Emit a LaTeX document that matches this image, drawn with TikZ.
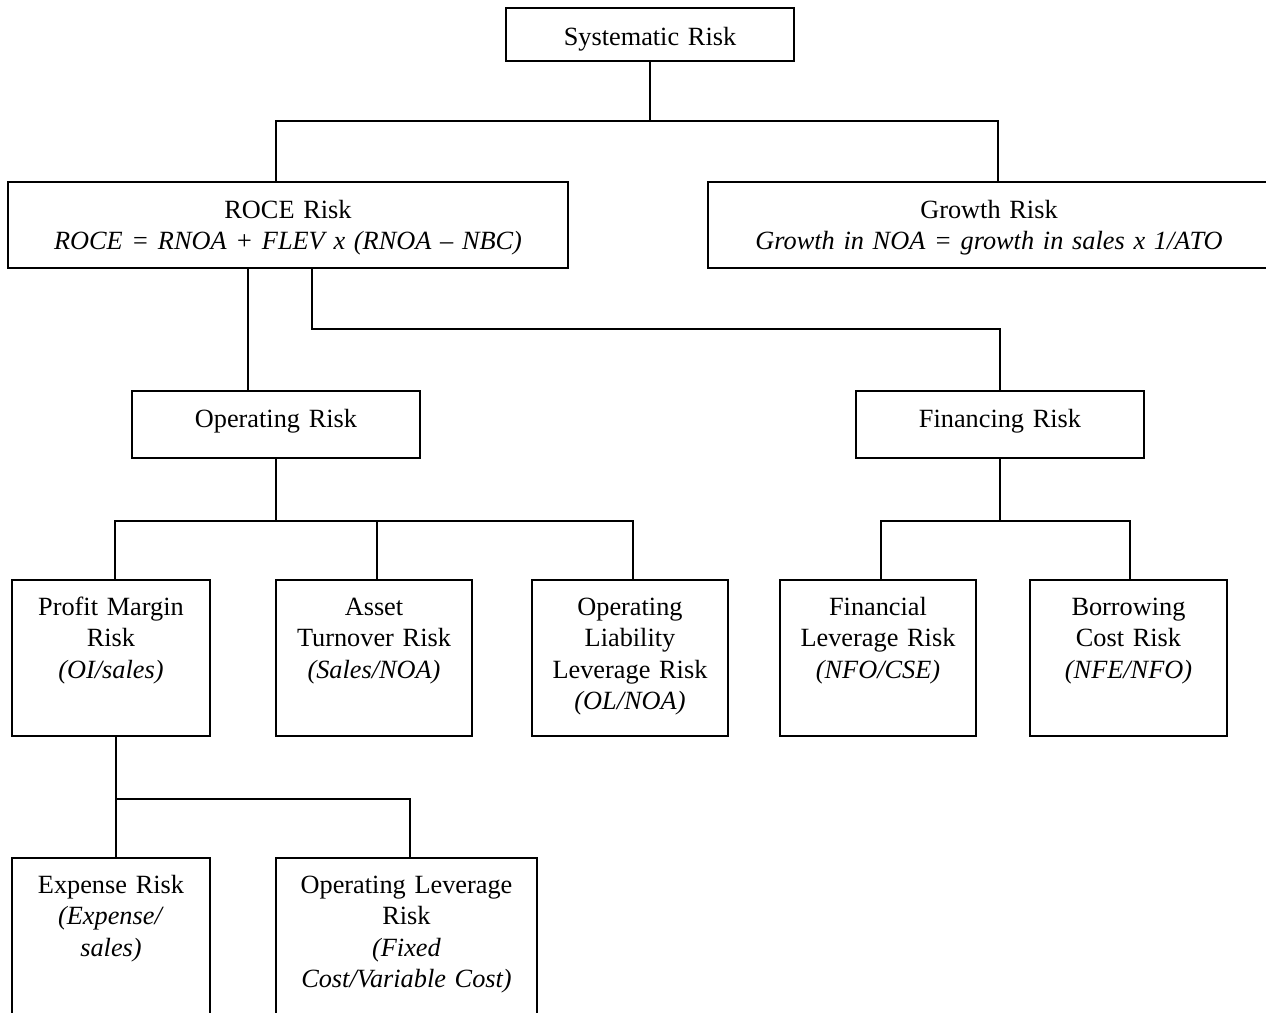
\documentclass[tikz,border=0pt]{standalone}
\usepackage{fontspec}
\setmainfont{Liberation Serif}
\begin{document}
\begin{tikzpicture}[x=1pt,y=-1pt,
  box/.style={draw, line width=2pt, rectangle, inner sep=0pt, align=center,
    font=\fontsize{26.3pt}{31.5pt}\selectfont},
  low/.style={box, text height=35pt, text depth=121pt},
  conn/.style={line width=2pt}]
\useasboundingbox (0,0) rectangle (1266,1012);
\clip (0,0) rectangle (1266,1012);

\node[box, minimum width=288pt, text width=280pt, text height=37pt, text depth=16pt] (sys) at (650,34.5) {Systematic Risk};
\node[box, minimum width=560pt, text width=550pt, text height=36pt, text depth=50pt] (roce) at (288,225) {ROCE Risk\\\textit{ROCE = RNOA + FLEV x (RNOA – NBC)}};
\node[box, minimum width=562pt, text width=550pt, text height=36pt, text depth=50pt] (growth) at (989,225) {Growth Risk\\\textit{Growth in NOA = growth in sales x 1/ATO}};
\node[box, minimum width=288pt, text width=280pt, text height=36pt, text depth=31pt] (opr) at (276,424.5) {Operating Risk};
\node[box, minimum width=288pt, text width=280pt, text height=36pt, text depth=31pt] (fin) at (1000,424.5) {Financing Risk};

\node[low, minimum width=198pt, text width=190pt] (pm) at (111,658) {Profit Margin\\Risk\\\textit{(OI/sales)}};
\node[low, minimum width=196pt, text width=188pt] (at) at (374,658) {Asset\\Turnover Risk\\\textit{(Sales/NOA)}};
\node[low, minimum width=196pt, text width=188pt] (ol) at (630,658) {Operating\\Liability\\Leverage Risk\\\textit{(OL/NOA)}};
\node[low, minimum width=196pt, text width=188pt] (fl) at (878,658) {Financial\\Leverage Risk\\\textit{(NFO/CSE)}};
\node[low, minimum width=197pt, text width=188pt] (bc) at (1128.5,658) {Borrowing\\Cost Risk\\\textit{(NFE/NFO)}};

\node[box, minimum width=198pt, text width=190pt, text height=35pt, text depth=127pt] (ex) at (111,939) {Expense Risk\\\textit{(Expense/}\\\textit{sales)}};
\node[box, minimum width=261pt, text width=250pt, text height=35pt, text depth=127pt] (olev) at (406.5,939) {Operating Leverage\\Risk\\\textit{(Fixed}\\\textit{Cost/Variable Cost)}};

\draw[conn] (sys.south) -- ++(0,59) coordinate (j1);
\draw[conn] ([xshift=-12pt]roce.north) |- (j1) -| ([xshift=9pt]growth.north);
\draw[conn] ([xshift=-40pt]roce.south) -- ([xshift=-28pt]opr.north);
\draw[conn] ([xshift=24pt]roce.south) -- ++(0,60) -| (fin.north);
\draw[conn] (opr.south) -- ++(0,62) coordinate (j2);
\draw[conn] ([xshift=4pt]pm.north) |- (j2) -| ([xshift=3pt]ol.north);
\draw[conn] ([xshift=3pt]at.north) -- ++(0,-59);
\draw[conn] (fin.south) -- ++(0,62) coordinate (j3);
\draw[conn] ([xshift=3pt]fl.north) |- (j3) -| ([xshift=1.5pt]bc.north);
\draw[conn] ([xshift=5pt]pm.south) -- ++(0,62) coordinate (j4);
\draw[conn] ([xshift=5pt]ex.north) |- (j4) -| ([xshift=3.5pt]olev.north);
\end{tikzpicture}
\end{document}
